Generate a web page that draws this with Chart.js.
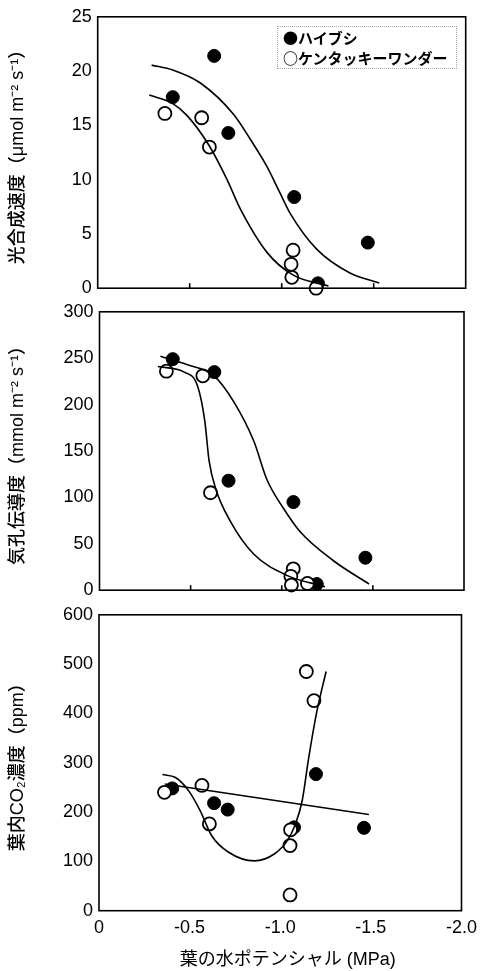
<!DOCTYPE html>
<html lang="ja">
<head>
    <meta charset="UTF-8">
    <title>葉の水ポテンシャルと光合成速度・気孔伝導度・葉内CO2濃度</title>
    <style>
        body {
            margin: 0;
            background: #fff;
        }

        .wrap {
            position: relative;
            width: 484px;
            height: 971px;
            overflow: hidden;
        }

        .panel {
            position: absolute;
            left: 0;
        }

        /* legend sits inside the top panel */
        .legend {
            position: absolute;
            left: 277px;
            top: 26px;
            width: 180px;
            height: 43px;
            box-sizing: border-box;
            border: 1px dotted #aaa;
            padding: 1px 0 0 5px;
            font: bold 15px "Noto Sans CJK JP", sans-serif;
            line-height: 20px;
            color: #000;
        }
    </style>
</head>
<body>
    <div class="wrap">
        <canvas id="photoChart" class="panel" width="484" height="305" style="top:0"></canvas>
        <canvas id="condChart" class="panel" width="484" height="312" style="top:295px"></canvas>
        <canvas id="co2Chart" class="panel" width="484" height="373" style="top:598px"></canvas>
        <div class="legend">
            <div>●ハイブシ</div>
            <div>○ケンタッキーワンダー</div>
        </div>
    </div>

    <script src="https://cdn.jsdelivr.net/npm/chart.js"></script>
    <script>
        // x: 葉の水ポテンシャル (MPa), axis runs 0 -> -2.0
        const xTicks = [-0.5, -1.0, -1.5];

        // 光合成速度 (μmol m-2 s-1)
        const photoHaibushiX = [-0.408, -0.633, -0.710, -1.068, -1.197, -1.468];
        const photoHaibushiY = [17.6, 21.4, 14.3, 8.4, 0.45, 4.2];
        const photoKentuckyX = [-0.365, -0.565, -0.607, -1.062, -1.051, -1.055, -1.187];
        const photoKentuckyY = [16.1, 15.7, 13.0, 3.5, 2.2, 1.0, 0.0];
        const photoHaibushiLineX = [-0.293, -0.408, -0.558, -0.739, -0.830, -0.920, -0.990, -1.046, -1.190, -1.371, -1.530];
        const photoHaibushiLineY = [20.55, 20.1, 18.9, 16.0, 13.7, 11.2, 8.8, 6.9, 3.6, 1.4, 0.48];
        const photoKentuckyLineX = [-0.280, -0.408, -0.486, -0.607, -0.703, -0.775, -0.920, -1.063, -1.254];
        const photoKentuckyLineY = [17.8, 17.0, 15.9, 13.1, 10.0, 7.3, 3.3, 1.2, 0.2];

        // 気孔伝導度 (mmol m-2 s-1)
        const condHaibushiX = [-0.402, -0.630, -0.708, -1.064, -1.192, -1.459];
        const condHaibushiY = [249, 235, 118, 95, 6.6, 35];
        const condKentuckyX = [-0.367, -0.567, -0.609, -1.063, -1.050, -1.053, -1.141];
        const condKentuckyY = [236, 231, 105, 23, 15, 5.5, 7.3];
        const condHaibushiLineX = [-0.334, -0.483, -0.628, -0.737, -0.846, -0.919, -1.010, -1.101, -1.282, -1.479];
        const condHaibushiLineY = [252, 243, 231, 203, 161, 119, 88, 63, 32, 6.6];
        const condKentuckyLineX = [-0.320, -0.465, -0.538, -0.578, -0.601, -0.638, -0.719, -0.846, -1.028, -1.237];
        const condKentuckyLineY = [241, 235, 220, 182, 140, 109, 74, 39, 16, 3.8];

        // 葉内CO2濃度 (ppm)
        const co2HaibushiX = [-0.404, -0.635, -0.710, -1.076, -1.197, -1.462];
        const co2HaibushiY = [248, 218, 205, 169, 277, 168];
        const co2KentuckyX = [-0.361, -0.568, -0.609, -1.144, -1.186, -1.057, -1.054, -1.054];
        const co2KentuckyY = [240, 254, 176, 485, 426, 164, 132, 32];
        const co2HaibushiLineX = [-0.363, -1.489];
        const co2HaibushiLineY = [257, 195];
        const co2KentuckyLineX = [-0.350, -0.422, -0.495, -0.558, -0.622, -0.713, -0.858, -0.967, -1.039, -1.084, -1.121, -1.157, -1.202, -1.253];
        const co2KentuckyLineY = [276, 270, 243, 203, 152, 119, 101, 115, 142, 176, 223, 310, 404, 485];

        const numFont = '"Liberation Sans", Arial, sans-serif';
        const jpFont = '"Liberation Sans", Arial, "Noto Sans CJK JP", sans-serif';

        function pts(xs, ys) {
            return xs.map((x, i) => ({ x: x, y: ys[i] }));
        }

        // box around plot area + small inward ticks on the bottom axis
        const framePlugin = {
            id: 'frame',
            afterDraw(chart, args, opts) {
                const ctx = chart.ctx;
                const a = chart.chartArea;
                ctx.save();
                ctx.strokeStyle = '#000';
                ctx.lineWidth = 1.6;
                ctx.strokeRect(a.left, a.top, a.right - a.left, a.bottom - a.top);
                if (opts.ticks) {
                    const xs = chart.scales.x;
                    opts.ticks.forEach(v => {
                        const px = xs.getPixelForValue(v);
                        ctx.beginPath();
                        ctx.moveTo(px, a.bottom);
                        ctx.lineTo(px, a.bottom - 5);
                        ctx.stroke();
                    });
                }
                ctx.restore();
            }
        };

        function makePanel(id, p) {
            const ctx = document.getElementById(id).getContext('2d');
            return new Chart(ctx, {
                type: 'scatter',
                data: {
                    datasets: [{
                        data: pts(p.lineAX, p.lineAY),
                        showLine: true,
                        borderColor: '#000',
                        borderWidth: 1.6,
                        pointRadius: 0,
                        cubicInterpolationMode: 'monotone',
                        clip: false
                    }, {
                        data: pts(p.lineBX, p.lineBY),
                        showLine: true,
                        borderColor: '#000',
                        borderWidth: 1.6,
                        pointRadius: 0,
                        cubicInterpolationMode: 'monotone',
                        clip: false
                    }, {
                        label: 'ケンタッキーワンダー',
                        data: pts(p.openX, p.openY),
                        pointRadius: 6.5,
                        pointBackgroundColor: '#fff',
                        pointBorderColor: '#000',
                        pointBorderWidth: 1.8,
                        clip: false
                    }, {
                        label: 'ハイブシ',
                        data: pts(p.fillX, p.fillY),
                        pointRadius: 6.5,
                        pointBackgroundColor: '#000',
                        pointBorderColor: '#000',
                        pointBorderWidth: 1,
                        clip: false
                    }]
                },
                options: {
                    responsive: false,
                    animation: false,
                    layout: { padding: p.padding },
                    plugins: {
                        legend: { display: false },
                        tooltip: { enabled: false },
                        frame: { ticks: p.showTicks ? xTicks : null }
                    },
                    scales: {
                        x: {
                            type: 'linear',
                            min: -2,
                            max: 0,
                            reverse: true,
                            display: p.showX,
                            grid: { display: false, drawTicks: false },
                            border: { display: false },
                            ticks: {
                                stepSize: 0.5,
                                padding: 7,
                                color: '#000',
                                font: { size: 18, family: numFont },
                                maxRotation: 0,
                                callback: v => (v === 0 ? '0' : v.toFixed(1))
                            },
                            title: {
                                display: p.showX,
                                // leading spaces nudge the centred title right like the original
                                text: '   葉の水ポテンシャル (MPa)',
                                color: '#000',
                                padding: { top: 0, bottom: 0 },
                                font: { size: 18, family: jpFont }
                            },
                            afterFit(axis) {
                                if (p.showX) axis.height = p.xHeight;
                            }
                        },
                        y: {
                            min: 0,
                            max: p.yMax,
                            grid: { display: false, drawTicks: false },
                            border: { display: false },
                            ticks: {
                                stepSize: p.yStep,
                                padding: 6,
                                color: '#000',
                                font: { size: 18, family: numFont }
                            },
                            title: {
                                display: true,
                                text: p.yTitle,
                                color: '#000',
                                padding: { top: 7, bottom: 0 },
                                font: { size: 18, weight: '500', family: jpFont }
                            },
                            afterFit(axis) {
                                axis.width = p.yWidth;
                            }
                        }
                    }
                },
                plugins: [framePlugin]
            });
        }

        makePanel('photoChart', {
            fillX: photoHaibushiX, fillY: photoHaibushiY,
            openX: photoKentuckyX, openY: photoKentuckyY,
            lineAX: photoHaibushiLineX, lineAY: photoHaibushiLineY,
            lineBX: photoKentuckyLineX, lineBY: photoKentuckyLineY,
            yMax: 25, yStep: 5,
            yTitle: '光合成速度（μmol m⁻² s⁻¹）',
            yWidth: 97.7,
            showX: false, showTicks: true,
            padding: { top: 13.5, right: 18.3, bottom: 13.3, left: 0 }
        });

        makePanel('condChart', {
            fillX: condHaibushiX, fillY: condHaibushiY,
            openX: condKentuckyX, openY: condKentuckyY,
            lineAX: condHaibushiLineX, lineAY: condHaibushiLineY,
            lineBX: condKentuckyLineX, lineBY: condKentuckyLineY,
            yMax: 300, yStep: 50,
            yTitle: '気孔伝導度（mmol m⁻² s⁻¹）',
            yWidth: 99.5,
            showX: false, showTicks: true,
            padding: { top: 14, right: 20, bottom: 11.7, left: 0 }
        });

        makePanel('co2Chart', {
            fillX: co2HaibushiX, fillY: co2HaibushiY,
            openX: co2KentuckyX, openY: co2KentuckyY,
            lineAX: co2HaibushiLineX, lineAY: co2HaibushiLineY,
            lineBX: co2KentuckyLineX, lineBY: co2KentuckyLineY,
            yMax: 600, yStep: 100,
            yTitle: '葉内CO₂濃度（ppm）',
            yWidth: 99,
            showX: true, showTicks: false,
            xHeight: 60.3,
            padding: { top: 14.3, right: 17.5, bottom: 0, left: 0 }
        });
    </script>
</body>
</html>
